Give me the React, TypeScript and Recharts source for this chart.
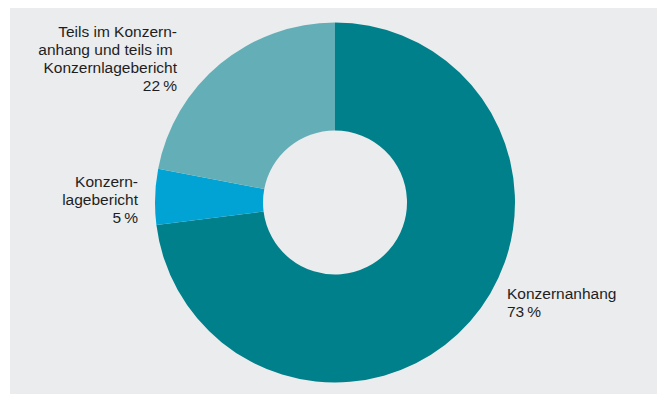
import React from "react";
import { PieChart, Pie, Cell } from "recharts";

const categories = ["Konzernanhang", "Konzernlagebericht", "Teils im Konzernanhang und teils im Konzernlagebericht"];
const shares = [73, 5, 22];
const colors = ["#00808a", "#00a3d3", "#64afb7"];
const labelLines: string[][] = [
  ["Konzernanhang"],
  ["Konzern-", "lagebericht"],
  ["Teils im Konzern-", "anhang und teils im\u00A0", "Konzernlagebericht"],
];

const data = categories.map((name, i) => ({ name, value: shares[i] }));

// label placement relative to pie centre
const labelPlacement = [
  { dx: 172, dy: 96.5, anchor: "start" },
  { dx: -197, dy: -15.5, anchor: "end" },
  { dx: -158, dy: -165.5, anchor: "end" },
];

const renderLabel = (props: any) => {
  const { cx, cy, index, value } = props;
  const p = labelPlacement[index];
  const lines = [...labelLines[index], `${value}\u2009%`];
  return (
    <text
      key={`lbl-${index}`}
      x={cx + p.dx}
      y={cy + p.dy}
      textAnchor={p.anchor}
      fill="#1e1e1e"
      fontSize={15.5}
      fontFamily="'Liberation Sans', Arial, Helvetica, sans-serif"
      style={{ whiteSpace: "pre" }}
    >
      {lines.map((l, i) => (
        <tspan key={i} x={cx + p.dx} dy={i === 0 ? 0 : 18}>
          {l}
        </tspan>
      ))}
    </text>
  );
};

export default function App() {
  return (
    <div style={{ width: 650, height: 387, marginLeft: 2, marginTop: -1, background: "#ebecee" }}>
      <PieChart width={650} height={387} margin={{ top: 0, right: 0, bottom: 0, left: 0 }}>
        <Pie
          data={data}
          dataKey="value"
          nameKey="name"
          cx={325}
          cy={195.5}
          innerRadius={72}
          outerRadius={180}
          startAngle={90}
          endAngle={-270}
          stroke="none"
          label={renderLabel}
          labelLine={false}
          isAnimationActive={false}
        >
          {data.map((d, i) => (
            <Cell key={d.name} fill={colors[i]} />
          ))}
        </Pie>
      </PieChart>
    </div>
  );
}
